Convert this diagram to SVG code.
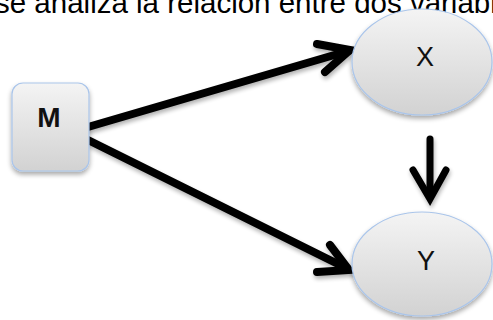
<svg xmlns="http://www.w3.org/2000/svg" width="493" height="320" viewBox="0 0 493 320">
<defs>
<linearGradient id="g" x1="0" y1="0" x2="0" y2="1">
<stop offset="0" stop-color="#f4f4f4"/>
<stop offset="1" stop-color="#d2d2d2"/>
</linearGradient>
<filter id="sh" x="-20%" y="-20%" width="140%" height="150%">
<feGaussianBlur in="SourceAlpha" stdDeviation="2.5"/>
<feOffset dx="0" dy="3" result="b"/>
<feComponentTransfer><feFuncA type="linear" slope="0.35"/></feComponentTransfer>
<feMerge><feMergeNode/><feMergeNode in="SourceGraphic"/></feMerge>
</filter>
<filter id="ash" x="-20%" y="-20%" width="140%" height="140%">
<feGaussianBlur in="SourceAlpha" stdDeviation="2"/>
<feOffset dx="1" dy="3"/>
<feComponentTransfer><feFuncA type="linear" slope="0.3"/></feComponentTransfer>
<feMerge><feMergeNode/><feMergeNode in="SourceGraphic"/></feMerge>
</filter>
</defs>
<style>
.node{fill:url(#g);stroke:#aac5ea;stroke-width:1.2;filter:url(#sh)}
.lbl{font-family:"Liberation Sans",Arial,sans-serif;fill:#111;text-anchor:middle}
.arr{fill:none;stroke:#000;stroke-width:8;stroke-linecap:round;stroke-linejoin:miter;stroke-miterlimit:10}
</style>
<text x="-5" y="13" style="font-family:'Liberation Sans',Arial,sans-serif;font-size:29.5px" fill="#000">se analiza la relación entre dos variables</text>
<g id="connectors" filter="url(#ash)">
<line class="arr" x1="88" y1="127" x2="348" y2="51"/>
<polyline class="arr" points="317,44 350,50 325,72"/>
<line class="arr" x1="88" y1="140" x2="346" y2="268"/>
<polyline class="arr" points="330,245 349,270 317,272"/>
<line class="arr" style="stroke-width:7" x1="430" y1="139" x2="430" y2="196"/>
<polyline class="arr" style="stroke-width:7" points="413,170 430,199 446,170"/>
</g>
<g id="M">
<rect class="node" x="12" y="83" width="77" height="88" rx="11"/>
<text class="lbl" x="49" y="127" style="font-size:28px;font-weight:bold">M</text>
</g>
<g id="X">
<ellipse class="node" cx="422" cy="62" rx="70" ry="53"/>
<text class="lbl" x="425" y="66" style="font-size:27px">X</text>
</g>
<g id="Y">
<ellipse class="node" cx="422" cy="264" rx="70" ry="52"/>
<text class="lbl" x="426" y="270" style="font-size:27px">Y</text>
</g>
</svg>
